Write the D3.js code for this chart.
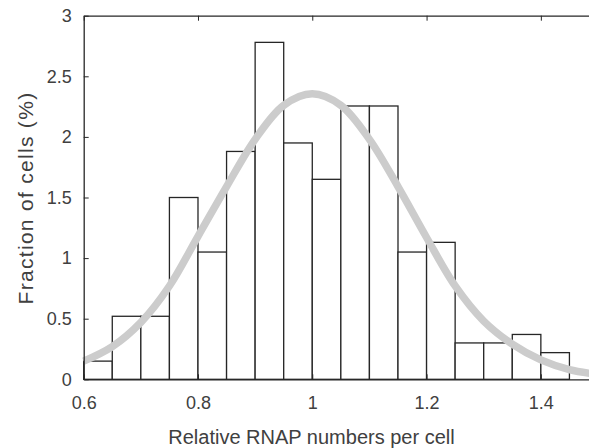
<!DOCTYPE html>
<html>
<head>
<meta charset="utf-8">
<script src="https://cdn.jsdelivr.net/npm/d3@7"></script>
<style>
  body { margin: 0; background: #fff; }
  text { font-family: "Liberation Sans", Arial, sans-serif; fill: #404040; }
</style>
</head>
<body>
<div id="hist"></div>
<script>
// histogram bins (left edge) and heights, fraction of cells (%)
const binEdges = [0.60, 0.65, 0.70, 0.75, 0.80, 0.85, 0.90, 0.95, 1.00, 1.05, 1.10, 1.15, 1.20, 1.25, 1.30, 1.35, 1.40];
const binValues = [0.15, 0.52, 0.52, 1.50, 1.05, 1.88, 2.78, 1.95, 1.65, 2.255, 2.255, 1.05, 1.13, 0.30, 0.30, 0.37, 0.22];
const binWidth = 0.05;

// fitted curve
const fitX = [0.60, 0.65, 0.70, 0.75, 0.80, 0.85, 0.90, 0.95, 1.00, 1.05, 1.10, 1.15, 1.20, 1.25, 1.30, 1.35, 1.40, 1.45, 1.50];
const fitY = [0.15, 0.27, 0.47, 0.77, 1.18, 1.59, 1.98, 2.26, 2.355, 2.26, 1.98, 1.59, 1.17, 0.77, 0.48, 0.29, 0.16, 0.08, 0.04];

const xTicks = [0.6, 0.8, 1, 1.2, 1.4];
const yTicks = [0, 0.5, 1, 1.5, 2, 2.5, 3];

const width = 589;
const height = 448;
const margin = {left: 83.7, right: -9, top: 15.7, bottom: 68.7};

const svg = d3.select("#hist")
  .append("svg")
  .attr("width", width)
  .attr("height", height);

const x = d3.scaleLinear()
  .domain([0.6, 1.5])
  .range([margin.left, width - margin.right]);

const y = d3.scaleLinear()
  .domain([0, 3])
  .range([height - margin.bottom, margin.top]);

// bars
svg.selectAll("rect.bar")
  .data(binEdges)
  .enter()
  .append("rect")
    .attr("class", "bar")
    .attr("x", (d) => x(d))
    .attr("y", (d, i) => y(binValues[i]))
    .attr("width", x(binWidth + 0.6) - x(0.6))
    .attr("height", (d, i) => y(0) - y(binValues[i]))
    .attr("fill", "white")
    .attr("stroke", "#262626")
    .attr("stroke-width", 1.3);

// fit curve
const line = d3.line()
  .x((d, i) => x(fitX[i]))
  .y((d, i) => y(fitY[i]))
  .curve(d3.curveCatmullRom);

svg.append("path")
  .datum(fitX)
  .attr("d", line)
  .attr("fill", "none")
  .attr("stroke", "#cccccc")
  .attr("stroke-width", 7.5)
  .attr("stroke-linecap", "butt");

// axes (ticks inside, box on)
const xBottom = svg.append("g")
  .attr("transform", `translate(0, ${y(0)})`)
  .call(d3.axisBottom(x).tickValues(xTicks).tickSizeInner(-5).tickSizeOuter(0).tickPadding(17).tickFormat(d3.format("")));

const xTop = svg.append("g")
  .attr("transform", `translate(0, ${y(3)})`)
  .call(d3.axisTop(x).tickValues(xTicks).tickSizeInner(-5).tickSizeOuter(0).tickFormat(""));

const yLeft = svg.append("g")
  .attr("transform", `translate(${x(0.6)}, 0)`)
  .call(d3.axisLeft(y).tickValues(yTicks).tickSizeInner(-5).tickSizeOuter(0).tickPadding(12).tickFormat(d3.format("")));

[xBottom, xTop, yLeft].forEach(g => {
  g.select(".domain").attr("stroke", "#262626").attr("stroke-width", 1.3);
  g.selectAll(".tick line").attr("stroke", "#262626");
  g.selectAll("text")
    .attr("font-size", "18px")
    .attr("font-family", "Liberation Sans, Arial, sans-serif")
    .attr("fill", "#404040");
});

// axis labels
svg.append("text")
  .attr("x", 311.5)
  .attr("y", 444)
  .attr("text-anchor", "middle")
  .attr("font-size", "20px")
  .text("Relative RNAP numbers per cell");

svg.append("text")
  .attr("transform", `translate(33, 198) rotate(-90)`)
  .attr("text-anchor", "middle")
  .attr("font-size", "21px")
  .attr("letter-spacing", "1.3px")
  .text("Fraction of cells (%)");
</script>
</body>
</html>
